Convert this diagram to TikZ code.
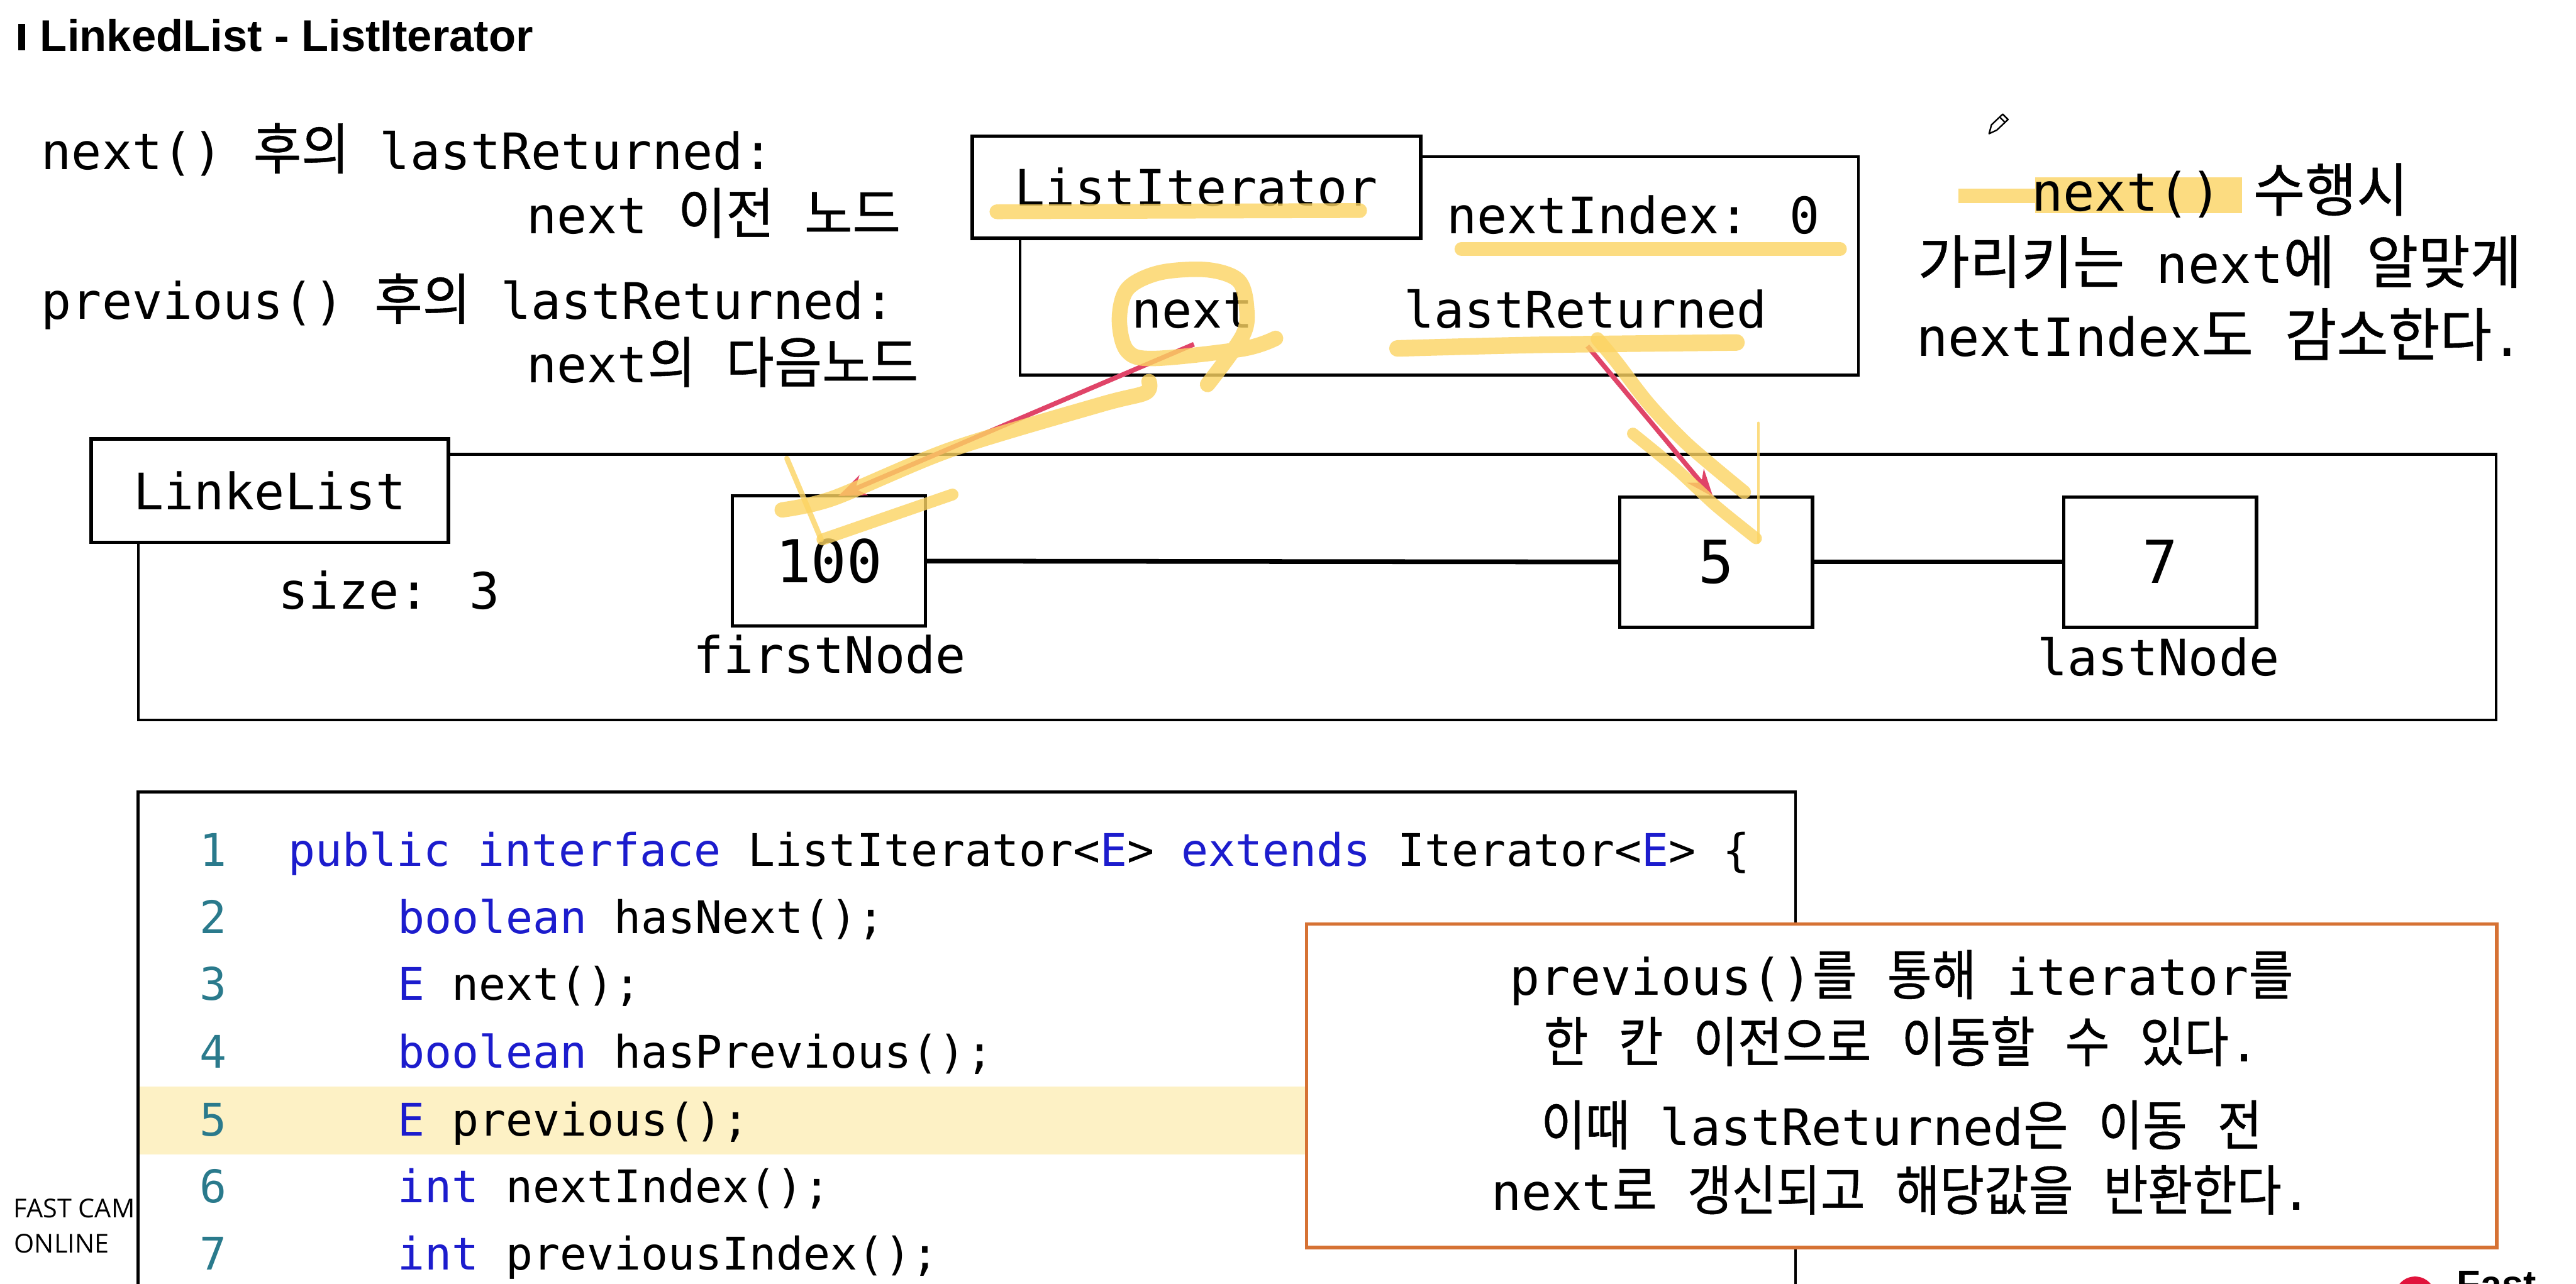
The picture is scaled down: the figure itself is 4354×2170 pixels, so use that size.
\documentclass[tikz,border=0pt]{standalone}
\usepackage{fontspec}
\setmainfont{DejaVu Sans Mono}
\newfontfamily\kr[Scale=1.1, FakeStretch=0.945, FakeBold=0.6]{Noto Sans CJK KR}
\newfontfamily\krw[Scale=1.1, FakeStretch=0.97, FakeBold=0.6]{Noto Sans CJK KR}
\newfontfamily\krn[Scale=1.08, FakeStretch=0.89, FakeBold=0.6]{Noto Sans CJK KR}
\newfontfamily\ttlfont{Liberation Sans}
\newfontfamily\osfont{Open Sans}
\usetikzlibrary{arrows.meta}
\definecolor{hly}{RGB}{252,212,98}
\definecolor{arr}{RGB}{224,68,104}
\definecolor{kw}{RGB}{28,28,205}
\definecolor{lno}{RGB}{42,122,140}
\definecolor{rowhl}{RGB}{253,241,197}
\definecolor{orbox}{RGB}{214,114,52}
\definecolor{logored}{RGB}{225,20,60}
\tikzset{
  every node/.style={inner sep=0pt, outer sep=0pt},
  txt/.style={font=\fontsize{8.5}{10}\selectfont},
  rtxt/.style={font=\fontsize{8.9}{10}\selectfont, anchor=base},
  otxt/.style={font=\fontsize{8.5}{10}\selectfont, anchor=base},
  codetxt/.style={font=\fontsize{7.6}{9}\selectfont, anchor=base west},
  lnum/.style={font=\fontsize{7.6}{9}\selectfont, anchor=base, text=lno},
  outerbox/.style={draw, line width=0.45pt},
  labelbox/.style={draw, line width=0.6pt, fill=white, txt},
  elem/.style={draw, line width=0.55pt, fill=white, font=\fontsize{10}{12}\selectfont, minimum width=32.6pt, minimum height=22pt},
  link/.style={line width=0.8pt},
  hl/.style={draw=hly, opacity=0.8, line cap=round, line join=round},
  redarr/.style={draw=arr, line width=0.8pt, -{Stealth[length=4.6pt,width=3.6pt]}},
}
\begin{document}
\begin{tikzpicture}[x=0.1pt,y=-0.1pt]
\clip (0,0) rectangle (4354,2170);
\fill[white] (0,0) rectangle (4354,2170);

% title
\fill (31,40) rectangle (43,85);
\node[anchor=base west, font=\ttlfont\bfseries\fontsize{7.5}{9}\selectfont] (title) at (68,87) {LinkedList - ListIterator};

% left notes
\node[txt, anchor=base west] (note1) at (70,286) {next() {\kr 후의} lastReturned:};
\node[txt, anchor=base west] (note2) at (890,395) {next {\kr 이전} {\kr 노드}};
\node[txt, anchor=base west] (note3) at (70,540) {previous() {\kr 후의} lastReturned:};
\node[txt, anchor=base west] (note4) at (890,647) {next{\kr 의} {\kr 다음노드}};

% ListIterator
\node[outerbox, minimum width=141.7pt, minimum height=36.9pt] (litBox) at (2432.5,449.5) {};
\node[labelbox, minimum width=75.8pt, minimum height=17.3pt] (litLabel) at (2022,316.5) {ListIterator};
\node[txt, anchor=base west] (nextIdx) at (2445,395) {nextIndex: 0};
\node[txt, anchor=base west] (nextF) at (1913,554) {next};
\node[txt, anchor=base west] (lastRet) at (2373,554) {lastReturned};

% right text
\draw[hl, line width=2.5pt, line cap=butt] (3310,331) -- (3440,331);
\draw[hl, line width=6pt, line cap=butt] (3440,330) -- (3790,330);
\node[rtxt] (r1) at (3752,357) {next() {\krw 수행시}};
\node[rtxt] (r2) at (3752,479) {{\krw 가리키는} next{\krw 에} {\krw 알맞게}};
\node[rtxt] (r3) at (3752,602) {nextIndex{\krw 도} {\krw 감소한다}.};
\draw[line width=0.25pt, line join=round] (3362,226) -- (3366,211) -- (3385,193) -- (3394,202) -- (3375,220) -- cycle;
\draw[line width=0.25pt] (3380,198) -- (3389,207);

% LinkedList
\node[outerbox, minimum width=398.5pt, minimum height=44.9pt] (llBox) at (2226.5,992.5) {};
\node[labelbox, minimum width=60.4pt, minimum height=17.5pt] (llLabel) at (456,829.5) {LinkeList};
\node[txt, anchor=base west] (size) at (470,1029) {size: 3};
\node[elem] (n100) at (1401,948.5) {100};
\node[elem] (n5) at (2900.5,950) {5};
\node[elem] (n7) at (3651,950) {7};
\node[txt, anchor=base] (firstL) at (1402,1138) {firstNode};
\node[txt, anchor=base] (lastL) at (3648,1142) {lastNode};
\draw[link] (n100.east) -- (n5.west);
\draw[link] (n5.east) -- (n7.west);

% footer text left
\node[anchor=base west, font=\osfont\fontsize{4.4}{5}\selectfont] (fc1) at (23,2058) {FAST CAM};
\node[anchor=base west, font=\osfont\fontsize{4.4}{5}\selectfont] (fc2) at (24,2118) {ONLINE};

% code box
\node[draw, line width=0.5pt, fill=white, minimum width=280.2pt, minimum height=95pt] (code) at (1634,1814) {};
\fill[rowhl] (236,1837) rectangle (2210,1952);
\node[lnum] (l1) at (360,1464) {1};
\node[lnum] (l2) at (360,1578) {2};
\node[lnum] (l3) at (360,1691) {3};
\node[lnum] (l4) at (360,1805) {4};
\node[lnum] (l5) at (360,1920) {5};
\node[lnum] (l6) at (360,2033) {6};
\node[lnum] (l7) at (360,2147) {7};
\node[codetxt] (c1) at (487,1464) {{\color{kw}public interface} ListIterator<{\color{kw}E}> {\color{kw}extends} Iterator<{\color{kw}E}> \{};
\node[codetxt] (c2) at (672,1578) {{\color{kw}boolean} hasNext();};
\node[codetxt] (c3) at (672,1691) {{\color{kw}E} next();};
\node[codetxt] (c4) at (672,1805) {{\color{kw}boolean} hasPrevious();};
\node[codetxt] (c5) at (672,1920) {{\color{kw}E} previous();};
\node[codetxt] (c6) at (672,2033) {{\color{kw}int} nextIndex();};
\node[codetxt] (c7) at (672,2147) {{\color{kw}int} previousIndex();};

% orange note
\node[draw=orbox, line width=0.55pt, fill=white, minimum width=201.2pt, minimum height=54.7pt] (note) at (3214,1835.5) {};
\node[otxt] (o1) at (3214,1682) {previous(){\krn 를} {\krn 통해} iterator{\krn 를}};
\node[otxt] (o2) at (3214,1795) {{\krn 한} {\krn 칸} {\krn 이전으로} {\krn 이동할} {\krn 수} {\krn 있다}.};
\node[otxt] (o3) at (3214,1936) {{\krn 이때} lastReturned{\krn 은} {\krn 이동} {\krn 전}};
\node[otxt] (o4) at (3214,2046) {next{\krn 로} {\krn 갱신되고} {\krn 해당값을} {\krn 반환한다}.};

% logo
\fill[logored] (4082,2192) circle[radius=3.4pt];
\node[anchor=base west, font=\ttlfont\bfseries\fontsize{6.5}{8}\selectfont] (fast) at (4153,2194) {Fast};

% red arrows
\coordinate (nextTail) at (2018,582);
\coordinate (lastTail) at (2683,585);
\draw[redarr] (nextTail) -- ([xshift=1.6pt]n100.north);
\draw[redarr] (lastTail) -- ([xshift=-0.5pt]n5.north);

% yellow highlights
\draw[hl, line width=2.5pt] (1685,358) -- (2298,356);
\draw[hl, line width=2.3pt] (2470,421) -- (3110,421);
\draw[hl, line width=2.8pt] plot[smooth] coordinates {(2362,589) (2600,583) (2935,579)};
\draw[hl, line width=2.6pt] plot[smooth, tension=0.55] coordinates {(2156,572) (2100,590) (1951,606) (1905,593) (1892,540) (1906,488) (1960,461) (2040,456) (2093,474) (2107,520) (2100,568) (2041,650)};
\draw[hl, line width=2.6pt] plot[smooth, tension=0.5] coordinates {(1942,645) (1936,664) (1860,684) (1607,760) (1409,842) (1322,862)};
\draw[hl, line width=0.9pt] (1330,775) -- (1388,912);
\draw[hl, line width=2pt] (1610,836) -- (1390,912);
\draw[hl, line width=2.3pt] plot[smooth, tension=0.5] coordinates {(2700,573) (2733,613) (2787,683) (2853,752) (2948,832)};
\draw[hl, line width=2pt] plot[smooth] coordinates {(2760,733) (2833,793) (2900,855) (2968,910)};
\draw[hl, line width=0.45pt] (2972,715) -- (2972,917);
\end{tikzpicture}
\end{document}
